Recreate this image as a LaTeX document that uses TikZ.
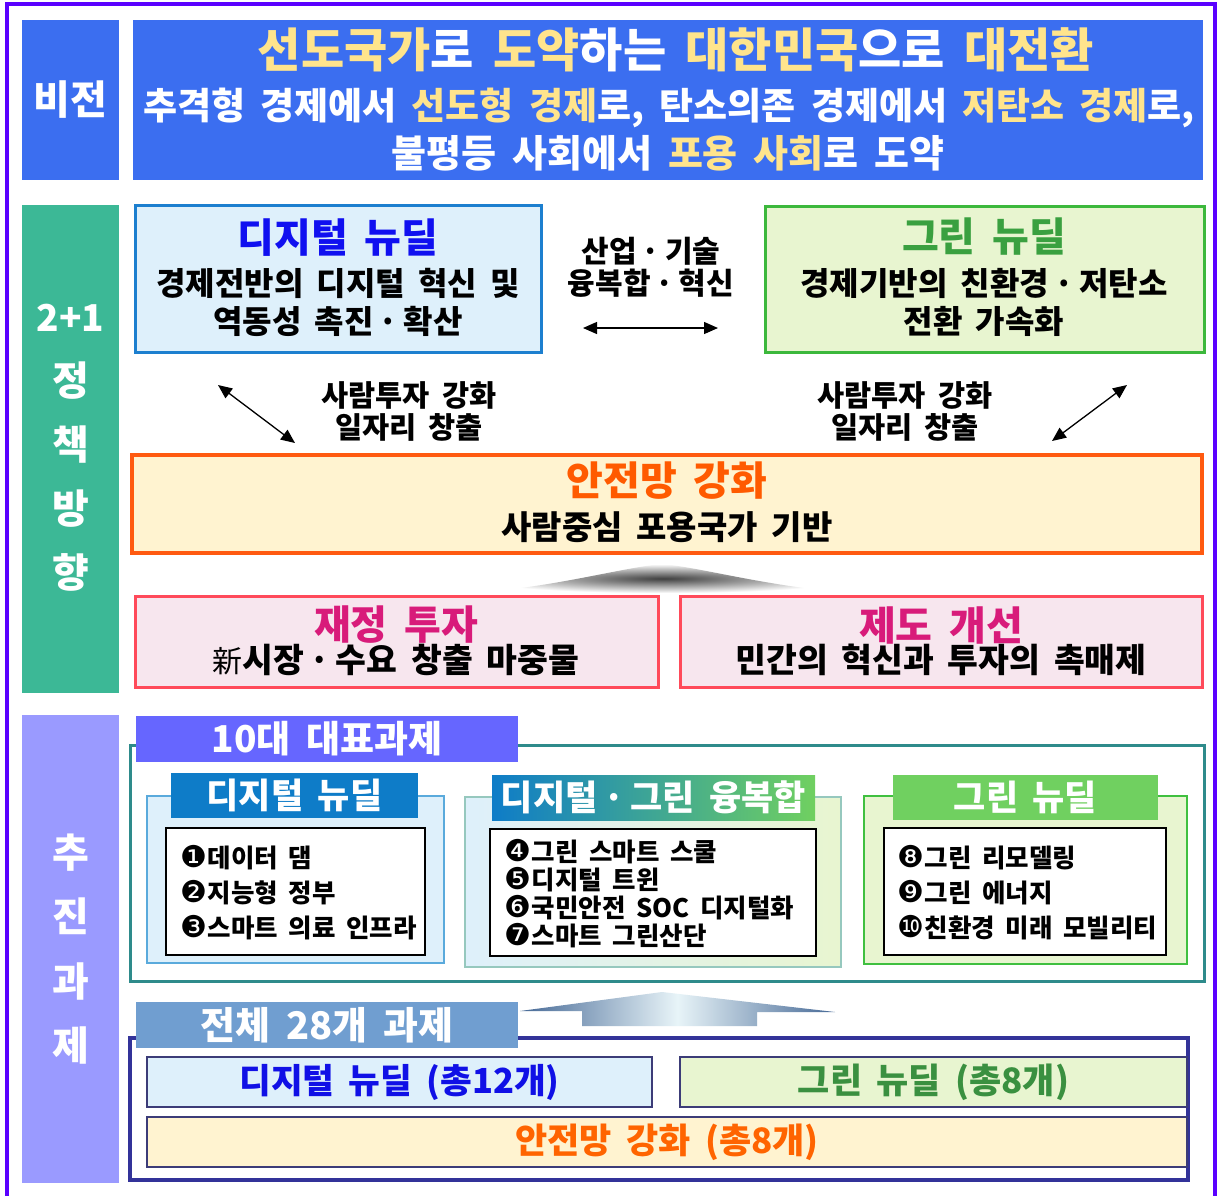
\documentclass[tikz,border=0pt]{standalone}
\usepackage{fontspec}
\setmainfont{Noto Sans CJK KR}[WordSpace=1.8]
\newfontfamily\symfont{DejaVu Sans}
\usetikzlibrary{arrows.meta,shadings}
\definecolor{outerpurple}{RGB}{90,0,255}
\definecolor{visionblue}{RGB}{59,110,240}
\definecolor{goldtxt}{RGB}{255,228,140}
\definecolor{policygreen}{RGB}{60,184,150}
\definecolor{dnfill}{RGB}{222,240,251}
\definecolor{dnborder}{RGB}{28,127,207}
\definecolor{dntitle}{RGB}{16,16,240}
\definecolor{gnfill}{RGB}{232,245,208}
\definecolor{gnborder}{RGB}{60,184,60}
\definecolor{gntitle}{RGB}{58,160,64}
\definecolor{sffill}{RGB}{255,243,208}
\definecolor{sfborder}{RGB}{255,90,16}
\definecolor{sftitle}{RGB}{255,90,0}
\definecolor{pkfill}{RGB}{247,230,238}
\definecolor{pkborder}{RGB}{255,74,90}
\definecolor{pktitle}{RGB}{216,27,122}
\definecolor{lavender}{RGB}{154,154,255}
\definecolor{tealborder}{RGB}{46,139,139}
\definecolor{tabone}{RGB}{102,102,255}
\definecolor{tabtwo}{RGB}{112,158,208}
\definecolor{navyborder}{RGB}{51,51,153}
\definecolor{hdrblue}{RGB}{14,124,200}
\definecolor{hdrgreen}{RGB}{112,208,96}
\definecolor{pnlblueborder}{RGB}{90,170,220}
\definecolor{pnlmixborder}{RGB}{150,200,190}
\definecolor{pnlgreenborder}{RGB}{64,192,64}
\definecolor{slatearrow}{RGB}{70,105,150}
\definecolor{lightarrow}{RGB}{232,244,248}
\definecolor{thinnavy}{RGB}{60,60,120}
\definecolor{bottomblue}{RGB}{16,16,230}
\definecolor{bottomgreen}{RGB}{58,144,64}
\definecolor{bottomorange}{RGB}{255,100,0}
\newcommand{\fs}[1]{\fontsize{#1}{#1}\selectfont\bfseries}
\newcommand{\cnum}[1]{{\symfont\mdseries\fontsize{30}{30}\selectfont #1}\kern1pt}
\begin{document}
\begin{tikzpicture}[x=1pt,y=-1pt,
  boxbase/.style={inner sep=0pt, outer sep=0pt, anchor=north west},
  txt/.style={inner sep=0pt, outer sep=0pt, align=center},
  itemtxt/.style={inner sep=0pt, outer sep=0pt, anchor=west, font=\fs{25.5}},
  dblarrow/.style={{Triangle[length=14pt,width=12pt]}-{Triangle[length=14pt,width=12pt]}, line width=1.3pt, black},
]
\useasboundingbox (0,0) rectangle (1218,1195);
\fill[white] (0,0) rectangle (1218,1195);
% outer frame
\draw[outerpurple, line width=4pt] (7,1200) -- (7,4) -- (1215,4) -- (1215,1200);

% ---------- vision ----------
\node[boxbase, fill=visionblue, minimum width=97, minimum height=160, text=white, font=\fs{40}] (visionlabel) at (22,20) {비전};
\node[boxbase, fill=visionblue, minimum width=1070, minimum height=160] (visionbox) at (133,20) {};
\node[txt, font=\fs{47}, text=white] (visionl1) at (676,50) {\textcolor{goldtxt}{선도국가}로 \textcolor{goldtxt}{도약}하는 \textcolor{goldtxt}{대한민국}으로 \textcolor{goldtxt}{대전환}};
\node[txt, font=\fs{37}, text=white] (visionl2) at (669,108) {추격형 경제에서 \textcolor{goldtxt}{선도형 경제}로, 탄소의존 경제에서 \textcolor{goldtxt}{저탄소 경제}로,};
\node[txt, font=\fs{38}, text=white] (visionl3) at (668,153) {불평등 사회에서 \textcolor{goldtxt}{포용 사회}로 도약};

% ---------- policy ----------
\node[boxbase, fill=policygreen, minimum width=97, minimum height=488, text=white] (policylabel) at (22,205) {};
\node[txt, text=white, font={\fontsize{40}{64}\selectfont\bfseries}] (policytext) at (70.5,448) {{\fontsize{37}{64}\selectfont 2+1}\\정\\책\\방\\향};

\node[boxbase, fill=dnfill, draw=dnborder, line width=3pt, minimum width=406, minimum height=147] (dnbox) at (135,205) {};
\node[txt, font=\fs{40}, text=dntitle] (dntitle) at (338,238) {디지털 뉴딜};
\node[txt, font=\fs{32}] (dnl1) at (338,283) {경제전반의 디지털 혁신 및};
\node[txt, font=\fs{32}] (dnl2) at (338,321) {역동성 촉진\,·\,확산};

\node[boxbase, fill=gnfill, draw=gnborder, line width=3pt, minimum width=439, minimum height=146] (gnbox) at (765,206) {};
\node[txt, font=\fs{40}, text=gntitle] (gntitle) at (984,237) {그린 뉴딜};
\node[txt, font=\fs{32}] (gnl1) at (984,283) {경제기반의 친환경\,·\,저탄소};
\node[txt, font=\fs{32}] (gnl2) at (984,321) {전환 가속화};

\node[txt, font={\fontsize{30}{32}\selectfont\bfseries}] (fusiontext) at (651,267) {산업\,·\,기술\\융복합\,·\,혁신};
\coordinate (harrowl) at (583,328);
\coordinate (harrowr) at (718,328);
\draw[dblarrow] (harrowl) -- (harrowr);

\node[txt, font={\fontsize{29.5}{32}\selectfont\bfseries}] (peopleleft) at (409,411) {사람투자 강화\\일자리 창출};
\node[txt, font={\fontsize{29.5}{32}\selectfont\bfseries}] (peopleright) at (905,411) {사람투자 강화\\일자리 창출};
\coordinate (dla) at (218,385);
\coordinate (dlb) at (295,443);
\coordinate (dra) at (1127,385);
\coordinate (drb) at (1052,441);
\draw[dblarrow] (dla) -- (dlb);
\draw[dblarrow] (dra) -- (drb);

\node[boxbase, fill=sffill, draw=sfborder, line width=4pt, minimum width=1070, minimum height=98] (sfbox) at (132,455) {};
\node[txt, font=\fs{40}, text=sftitle] (sftitle) at (667,481) {안전망 강화};
\node[txt, font=\fs{33}] (sfline) at (667,527) {사람중심 포용국가 기반};

% gray chevron
\shade[inner color=black!75, outer color=white] (476,593) .. controls (560,586) and (620,568) .. (662,564) .. controls (704,568) and (764,586) .. (850,593) -- cycle;

\node[boxbase, fill=pkfill, draw=pkborder, line width=3pt, minimum width=523, minimum height=91] (fiscalbox) at (135,596) {};
\node[txt, font=\fs{40}, text=pktitle] (fiscaltitle) at (396,625) {재정 투자};
\node[txt, font=\fs{33.5}] (fiscalline) at (396,660) {{\mdseries\fontsize{30}{30}\selectfont 新}시장\,·\,수요 창출 마중물};
\node[boxbase, fill=pkfill, draw=pkborder, line width=3pt, minimum width=522, minimum height=91] (instbox) at (680,596) {};
\node[txt, font=\fs{40}, text=pktitle] (insttitle) at (941,625) {제도 개선};
\node[txt, font=\fs{33.5}] (instline) at (941,660) {민간의 혁신과 투자의 촉매제};

% ---------- tasks ----------
\node[boxbase, fill=lavender, minimum width=97, minimum height=468] (tasklabel) at (22,715) {};
\node[txt, text=white, font={\fontsize{40}{64.5}\selectfont\bfseries}] (tasktext) at (70.5,949) {추\\진\\과\\제};

\node[boxbase, draw=tealborder, line width=3pt, minimum width=1074, minimum height=236] (topten) at (130,745) {};
\node[boxbase, fill=tabone, minimum width=382, minimum height=46] (toptentab) at (136,716) {};
\node[txt, font=\fs{37}, text=white] (toptentitle) at (toptentab.center) {10대 대표과제};

% digital panel
\node[boxbase, fill=dnfill, draw=pnlblueborder, line width=1.2pt, minimum width=297, minimum height=167] (dpanel) at (147,796) {};
\node[boxbase, fill=hdrblue, minimum width=247, minimum height=45, text=white, font=\fs{35}] (dheader) at (171,773) {디지털 뉴딜};
\node[boxbase, fill=white, draw=black, line width=1.5pt, minimum width=259, minimum height=127] (dlist) at (166,828) {};
\node[itemtxt] (d1) at (180,858) {\cnum{❶}데이터 댐};
\node[itemtxt] (d2) at (180,893) {\cnum{❷}지능형 정부};
\node[itemtxt] (d3) at (180,928) {\cnum{❸}스마트 의료 인프라};

% fusion panel
\node[boxbase, left color=dnfill, right color=gnfill, draw=pnlmixborder, line width=1.2pt, minimum width=376, minimum height=170] (fpanel) at (465,797) {};
\node[boxbase, left color=hdrblue, right color=hdrgreen, minimum width=323, minimum height=45] (fheader) at (492,775) {};
\node[txt, font=\fs{35}, text=white] (fheadertext) at (fheader.center) {디지털\,·\,그린 융복합};
\node[boxbase, fill=white, draw=black, line width=1.5pt, minimum width=326, minimum height=127] (flist) at (490,829) {};
\node[itemtxt] (f4) at (504,852) {\cnum{❹}그린 스마트 스쿨};
\node[itemtxt] (f5) at (504,880) {\cnum{❺}디지털 트윈};
\node[itemtxt] (f6) at (504,908) {\cnum{❻}국민안전 SOC 디지털화};
\node[itemtxt] (f7) at (504,936) {\cnum{❼}스마트 그린산단};

% green panel
\node[boxbase, fill=gnfill, draw=pnlgreenborder, line width=1.2pt, minimum width=323, minimum height=168] (gpanel) at (864,796) {};
\node[boxbase, fill=hdrgreen, minimum width=265, minimum height=45, text=white, font=\fs{35}] (gheader) at (893,775) {그린 뉴딜};
\node[boxbase, fill=white, draw=black, line width=1.5pt, minimum width=282, minimum height=127] (glist) at (884,828) {};
\node[itemtxt] (g8) at (897,858) {\cnum{❽}그린 리모델링};
\node[itemtxt] (g9) at (897,893) {\cnum{❾}그린 에너지};
\node[itemtxt] (g10) at (897,928) {\cnum{❿}친환경 미래 모빌리티};

% blue gradient arrow
\shade[left color=slatearrow, right color=slatearrow, middle color=lightarrow] (520,1011) -- (662,992) -- (835,1012) -- (757,1012) -- (757,1026) -- (582,1026) -- (582,1011) -- cycle;

\node[boxbase, draw=navyborder, line width=3.5pt, minimum width=1058, minimum height=142] (alltasks) at (130,1038) {};
\node[boxbase, fill=tabtwo, minimum width=382, minimum height=46] (alltab) at (136,1002) {};
\node[txt, font=\fs{38}, text=white] (alltitle) at (alltab.center) {전체 28개 과제};

\node[boxbase, fill=dnfill, draw=thinnavy, line width=1.2pt, minimum width=505, minimum height=50, text=bottomblue, font=\fs{34.5}] (alldn) at (147,1057) {디지털 뉴딜 (총12개)};
\node[boxbase, fill=gnfill, draw=thinnavy, line width=1.2pt, minimum width=507, minimum height=50, text=bottomgreen, font=\fs{35}] (allgn) at (680,1057) {그린 뉴딜 (총8개)};
\node[boxbase, fill=sffill, draw=thinnavy, line width=1.2pt, minimum width=1040, minimum height=50, text=bottomorange, font=\fs{35}] (allsf) at (147,1117) {안전망 강화 (총8개)};
\end{tikzpicture}
\end{document}
